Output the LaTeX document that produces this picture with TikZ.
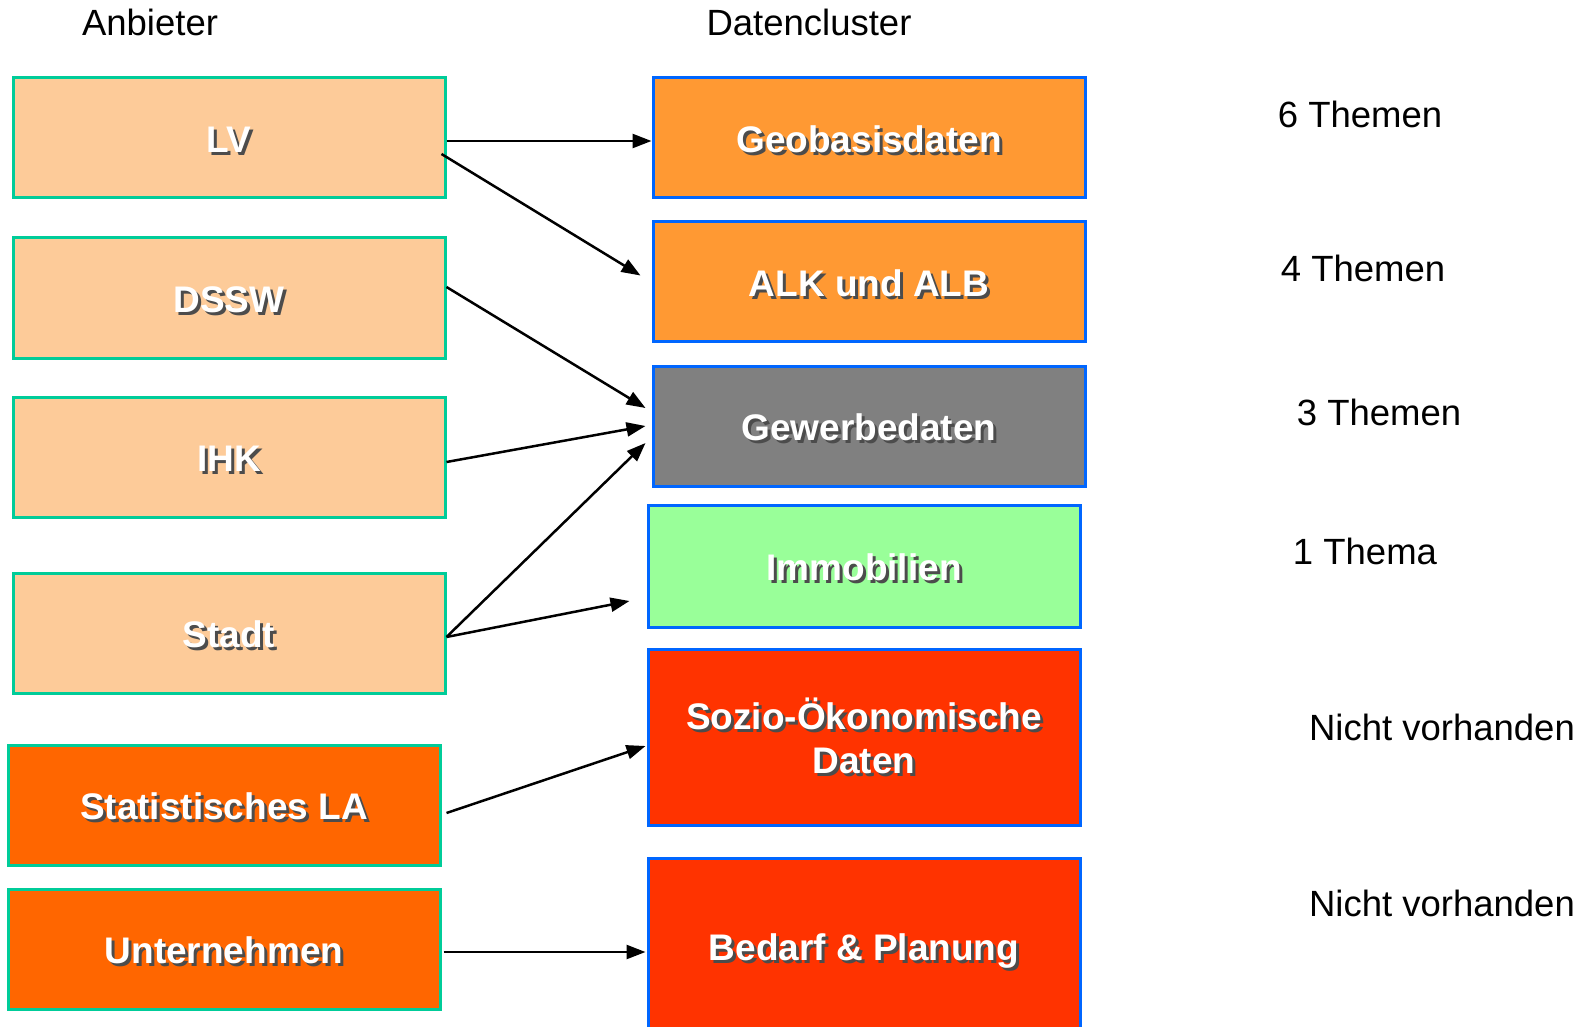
\documentclass[tikz,border=0pt]{standalone}
\usepackage{fontspec}
\setmainfont{Liberation Sans}
\usetikzlibrary{arrows.meta}
\definecolor{peach}{HTML}{FDCB99}
\definecolor{darkorange}{HTML}{FF6600}
\definecolor{lightorange}{HTML}{FF9933}
\definecolor{midgray}{HTML}{808080}
\definecolor{lightgreen}{HTML}{99FF99}
\definecolor{redorange}{HTML}{FF3300}
\definecolor{greenline}{HTML}{00CC99}
\definecolor{blueline}{HTML}{0066FF}
\newcommand{\shadowtxt}[1]{\leavevmode\rlap{\hspace{3pt}\raisebox{-3pt}{\color{black!70}#1}}#1}
\begin{document}
\begin{tikzpicture}[x=1pt,y=-1pt,
    arrow/.style = {line width=2.5pt,-{Triangle[length=19pt,width=14pt]}},
    anbieter/.style = {draw=greenline,line width=3pt,minimum width=432pt,minimum height=120pt,
        text=white,font=\fontsize{37}{44}\selectfont\bfseries,text height=29pt,text depth=0pt},
    cluster/.style = {draw=blueline,line width=3pt,minimum width=432pt,minimum height=120pt,
        text=white,font=\fontsize{37}{44}\selectfont\bfseries,align=center,text height=29pt,text depth=0pt},
    plain/.style = {font=\fontsize{36.5}{44}\selectfont}]
                \useasboundingbox (0,0) rectangle (1585,1027);
                \fill[white] (0,0) rectangle (1585,1027);

                \node[plain] (hanb) at (150,22) {Anbieter};
                \node[plain] (hdat) at (809,22) {Datencluster};

                \node[anbieter,fill=peach] (lv) at (229,138) {\shadowtxt{LV}};
                \node[anbieter,fill=peach] (dssw) at (229,298) {\shadowtxt{DSSW}};
                \node[anbieter,fill=peach] (ihk) at (229,457) {\shadowtxt{IHK}};
                \node[anbieter,fill=peach] (stadt) at (229,633) {\shadowtxt{Stadt}};
                \node[anbieter,fill=darkorange] (stat) at (224,805) {\shadowtxt{Statistisches LA}};
                \node[anbieter,fill=darkorange] (unt) at (224,949) {\shadowtxt{Unternehmen}};

                \node[cluster,fill=lightorange] (geo) at (869,138) {\shadowtxt{Geobasisdaten}};
                \node[cluster,fill=lightorange] (alk) at (869,281.5) {\shadowtxt{ALK und ALB}};
                \node[cluster,fill=midgray] (gew) at (869,426) {\shadowtxt{Gewerbedaten}};
                \node[cluster,fill=lightgreen,minimum height=122pt] (immo) at (864,566) {\shadowtxt{Immobilien}};
                \node[cluster,fill=redorange,minimum height=176pt,text height=,text depth=] (sozio) at (864,737)
                    {\shadowtxt{Sozio-Ökonomische}\\\shadowtxt{Daten}};
                \node[cluster,fill=redorange,minimum height=180pt,text height=24pt] (bed) at (864,948) {\shadowtxt{Bedarf \& Planung}};

                \node[plain] (tgeo) at (1360,114) {6 Themen};
                \node[plain] (talk) at (1363,268) {4 Themen};
                \node[plain] (tgew) at (1379,412) {3 Themen};
                \node[plain] (timmo) at (1365,551) {1 Thema};
                \node[plain] (tsozio) at (1442,727) {Nicht vorhanden};
                \node[plain] (tbed) at (1442,903) {Nicht vorhanden};

                \draw[arrow] ([yshift=-3pt]lv.east) -- ([yshift=-3pt]geo.west);
                \draw[arrow] ([xshift=-5pt,yshift=-16pt]lv.east) -- ([xshift=-11pt,yshift=6pt]alk.west);
                \draw[arrow] ([yshift=11pt]dssw.east) -- ([xshift=-6pt,yshift=18pt]gew.west);
                \draw[arrow] ([yshift=-5pt]ihk.east) -- ([xshift=-6pt]gew.west);
                \draw[arrow] ([yshift=-4pt]stadt.east) -- ([xshift=-6pt,yshift=-17pt]gew.west);
                \draw[arrow] ([yshift=-4pt]stadt.east) -- ([xshift=-17pt,yshift=-35pt]immo.west);
                \draw[arrow] ([xshift=5pt,yshift=-8pt]stat.east) -- ([xshift=-1pt,yshift=-9pt]sozio.west);
                \draw[arrow] ([xshift=2pt,yshift=-3pt]unt.east) -- ([xshift=-1pt,yshift=-4pt]bed.west);
            \end{tikzpicture}
\end{document}
